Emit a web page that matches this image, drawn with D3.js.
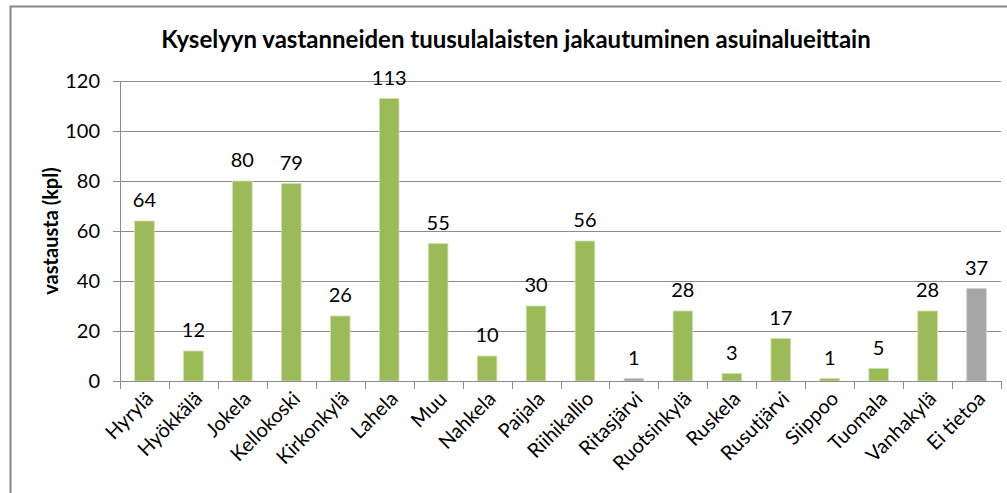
<!DOCTYPE html>
<html>
<head>
<meta charset="utf-8">
<script src="https://cdn.jsdelivr.net/npm/d3@7"></script>
<style>
  body { margin: 0; background: #fff; }
  svg { font-family: Lato, "Liberation Sans", sans-serif; }
</style>
</head>
<body>
<div id="visual-container"></div>
<script>
const areas = ['Hyrylä', 'Hyökkälä', 'Jokela', 'Kellokoski', 'Kirkonkylä', 'Lahela', 'Muu', 'Nahkela',
  'Paijala', 'Riihikallio', 'Ritasjärvi', 'Ruotsinkylä', 'Ruskela', 'Rusutjärvi', 'Siippoo', 'Tuomala',
  'Vanhakylä', 'Ei tietoa']
const counts = [64, 12, 80, 79, 26, 113, 55, 10, 30, 56, 1, 28, 3, 17, 1, 5, 28, 37]
const greyAreas = ['Ritasjärvi', 'Ei tietoa']
const yTicks = [0, 20, 40, 60, 80, 100, 120]

const width = 1007
const height = 493
const plotLeft = 120
const plotRight = 1001
const plotTop = 81
const plotBottom = 381

const data = areas.map((a, i) => ({ area: a, value: counts[i] }))

const svg = d3.select('#visual-container')
  .append('svg')
  .attr('width', width)
  .attr('height', height)

// chart frame
svg.append('rect')
  .attr('x', 10.5).attr('y', 6.5)
  .attr('width', 1010).attr('height', 500)
  .attr('fill', 'none')
  .attr('stroke', '#868686')
  .attr('stroke-width', 2)

svg.append('text')
  .attr('x', 516)
  .attr('y', 48)
  .attr('text-anchor', 'middle')
  .attr('font-size', 24)
  .attr('font-weight', 'bold')
  .attr('fill', '#000')
  .text('Kyselyyn vastanneiden tuusulalaisten jakautuminen asuinalueittain')

const xScale = d3.scaleBand()
  .domain(areas)
  .range([plotLeft, plotRight])
  .paddingInner(0.6)
  .paddingOuter(0.3)

const yScale = d3.scaleLinear()
  .domain([0, 120])
  .range([plotBottom, plotTop])

// gridlines
svg.append('g')
  .selectAll('line')
  .data(yTicks)
  .enter()
  .append('line')
  .attr('x1', plotLeft - 7)
  .attr('x2', plotRight)
  .attr('y1', d => Math.round(yScale(d)) + 0.5)
  .attr('y2', d => Math.round(yScale(d)) + 0.5)
  .attr('stroke', '#8c8c8c')
  .attr('stroke-width', 1)

const yAxis = d3.axisLeft(yScale)
  .tickValues(yTicks)
  .tickSize(0)
  .tickPadding(20)
svg.append('g')
  .attr('id', 'y-axis')
  .attr('transform', `translate(${plotLeft}, 0)`)
  .call(yAxis)
  .call(g => g.select('.domain').remove())
  .selectAll('text')
  .attr('font-size', 20)
  .attr('fill', '#000')
  .attr('font-family', 'Lato, sans-serif')

svg.append('line')
  .attr('x1', plotLeft + 0.5).attr('x2', plotLeft + 0.5)
  .attr('y1', plotTop).attr('y2', plotBottom + 8)
  .attr('stroke', '#8c8c8c')

// separators between categories
const step = xScale.step()
const boundaries = areas.map(a => xScale(a) - step * 0.3).concat([plotRight])
svg.append('g')
  .selectAll('line')
  .data(boundaries)
  .enter()
  .append('line')
  .attr('x1', d => Math.round(d) + 0.5)
  .attr('x2', d => Math.round(d) + 0.5)
  .attr('y1', plotBottom)
  .attr('y2', plotBottom + 8)
  .attr('stroke', '#8c8c8c')

svg.append('g')
  .selectAll('rect')
  .data(data)
  .enter()
  .append('rect')
  .attr('x', d => xScale(d.area))
  .attr('y', d => yScale(d.value))
  .attr('width', xScale.bandwidth())
  .attr('height', d => yScale(0) - yScale(d.value))
  .attr('fill', d => greyAreas.includes(d.area) ? '#a6a6a6' : '#9bbb59')
  .attr('stroke', d => greyAreas.includes(d.area) ? '#d0d0d0' : '#cfe0b0')
  .attr('stroke-width', 0.8)

svg.append('g')
  .selectAll('text')
  .data(data)
  .enter()
  .append('text')
  .attr('x', d => xScale(d.area) + xScale.bandwidth() / 2)
  .attr('y', d => yScale(d.value) - 14)
  .attr('text-anchor', 'middle')
  .attr('font-size', 20)
  .attr('fill', '#000')
  .text(d => d.value)

svg.append('line')
  .attr('x1', plotLeft).attr('x2', plotRight)
  .attr('y1', plotBottom + 0.5).attr('y2', plotBottom + 0.5)
  .attr('stroke', '#8c8c8c')

// category labels
svg.append('g')
  .selectAll('text')
  .data(areas)
  .enter()
  .append('text')
  .attr('text-anchor', 'end')
  .attr('font-size', 20)
  .attr('fill', '#000')
  .attr('transform', d => `translate(${xScale(d) + xScale.bandwidth() / 2 + 10}, 400) rotate(-45)`)
  .text(d => d)

svg.append('text')
  .attr('text-anchor', 'middle')
  .attr('font-size', 20)
  .attr('font-weight', 'bold')
  .attr('fill', '#000')
  .attr('transform', 'translate(58, 231) rotate(-90)')
  .text('vastausta (kpl)')
</script>
</body>
</html>
